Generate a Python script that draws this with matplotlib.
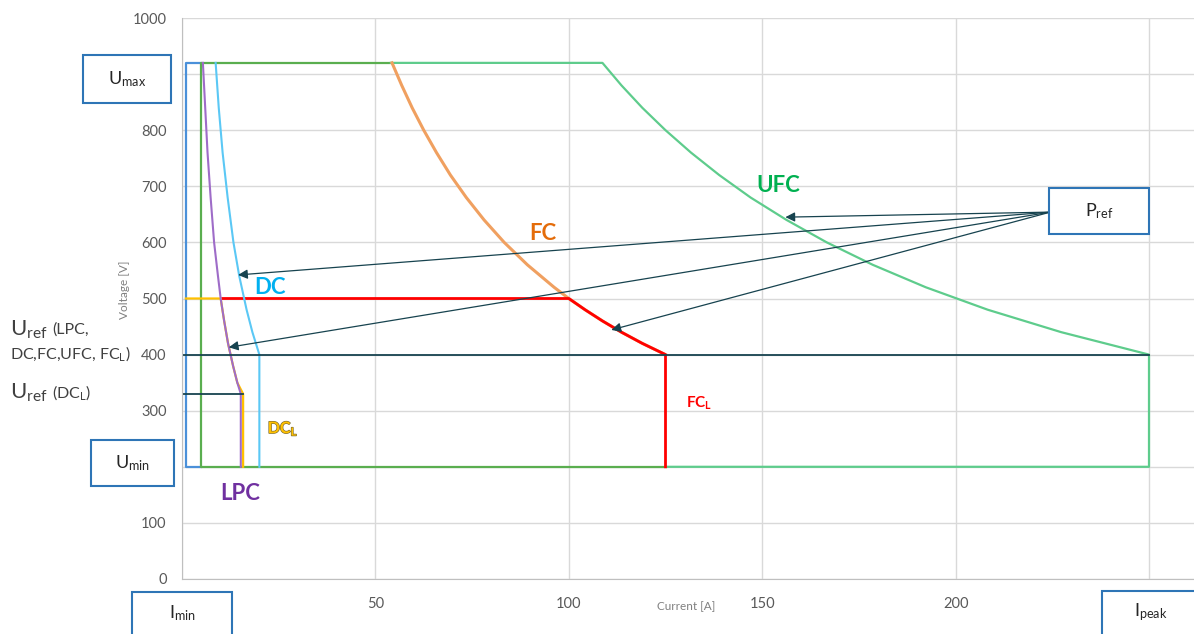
import matplotlib
matplotlib.use("Agg")
import matplotlib.pyplot as plt
import matplotlib.patheffects as pe
from matplotlib.patches import Rectangle

# limits
U_MAX = 920
U_MIN = 200
U_REF = 400
U_REF_DCL = 330
I_MIN = 1
I_PEAK = 250

# Imin / Umax box (blue) and Imin limit (green)
blue_i = [5, I_MIN, I_MIN, 5]
blue_u = [U_MIN, U_MIN, U_MAX, U_MAX]
green_i = [125, 5, 5, 54]
green_u = [U_MIN, U_MIN, U_MAX, U_MAX]

# UFC (light green)
ufc_i = [54, 108.7, 113.6, 119, 125, 131.6, 138.9, 147, 156.3, 166.7, 178.6,
         192.3, 208.3, 227.3, 250, 250, 125]
ufc_u = [920, 920, 880, 840, 800, 760, 720, 680, 640, 600, 560,
         520, 480, 440, 400, 200, 200]

# FC (orange)
fc_i = [54.3, 56.8, 59.5, 62.5, 65.8, 69.4, 73.5, 78.1, 83.3, 89.3, 96.2,
        100, 104.2, 108.7, 113.6, 119, 125]
fc_u = [920, 880, 840, 800, 760, 720, 680, 640, 600, 560, 520,
        500, 480, 460, 440, 420, 400]

# FC_L (red)
fcl_i = [10.5, 100, 104.2, 108.7, 113.6, 119, 125, 125]
fcl_u = [500, 500, 480, 460, 440, 420, 400, 200]

# DC (light blue)
dc_i = [8.7, 9.5, 10.5, 11.8, 13.3, 14.8, 16.7, 18.2, 20, 20]
dc_u = [920, 840, 760, 680, 600, 540, 480, 440, 400, 200]

# DC_L (yellow)
dcl_i = [I_MIN, 10, 10.9, 11.9, 13.2, 14.3, 15.8, 15.8]
dcl_u = [500, 500, 460, 420, 380, 350, 330, 200]

# LPC (purple)
lpc_i = [5.4, 6.0, 6.6, 7.4, 8.3, 9.3, 10, 10.9, 11.9, 13.2, 14.3, 15.2, 15.2]
lpc_u = [920, 840, 760, 680, 600, 540, 500, 460, 420, 380, 350, 330, 200]

# P_ref arrows: targets on the curves
arrow_src = (224.5, 654)
arrow_targets = [(156, 645), (14.5, 542), (12.1, 413), (111, 444)]

# tick labels (the ones under the boxes are covered in the original)
x_ticks = [0, 50, 100, 150, 200, 250]
x_labels = ["", "50", "100", "150", "200", ""]
y_ticks = list(range(0, 1001, 100))
y_labels = ["0", "100", "", "300", "400", "500", "600", "700", "800", "", "1000"]

W, H = 1194, 634


def px(x, y):
    return x / W, 1 - y / H


plt.rcParams["font.family"] = ["Lato", "DejaVu Sans"]
plt.rcParams["mathtext.default"] = "regular"

fig = plt.figure(figsize=(W / 100, H / 100), dpi=100)
left, top = px(182, 18)
_, bottom = px(182, 579)
ax = fig.add_axes([left, bottom, 1 - left, top - bottom])

ax.set_xlim(0, (W - 182) / 3.868)
ax.set_ylim(0, 1000)
ax.set_xticks(x_ticks, x_labels)
ax.set_yticks(y_ticks, y_labels)
ax.grid(True, color="#d9d9d9", lw=1)
ax.set_axisbelow(True)
for s in ["top", "right"]:
    ax.spines[s].set_visible(False)
for s in ["left", "bottom"]:
    ax.spines[s].set_color("#bfbfbf")
ax.tick_params(length=0, colors="#595959", labelsize=10.5)
ax.tick_params(axis="x", pad=13)
ax.tick_params(axis="y", pad=11)

ax.plot(blue_i, blue_u, color="#4a90d9", lw=1.6)
ax.plot(green_i, green_u, color="#5aae4f", lw=1.6)
ax.plot(ufc_i, ufc_u, color="#5ecc8c", lw=1.6)
ax.plot(fc_i, fc_u, color="#f0a060", lw=2.2)
ax.plot(fcl_i, fcl_u, color="#ff0000", lw=2.0)
ax.plot(dc_i, dc_u, color="#5bc8f5", lw=1.5)
ax.plot(dcl_i, dcl_u, color="#ffc000", lw=1.6)
ax.plot(lpc_i, lpc_u, color="#9e6cc8", lw=1.5)
ax.plot([0, I_PEAK], [U_REF, U_REF], color="#17434f", lw=1.3)
ax.plot([0, 15.8], [U_REF_DCL, U_REF_DCL], color="#17434f", lw=1.3)

for t in arrow_targets:
    ax.annotate("", xy=t, xytext=arrow_src,
                arrowprops=dict(arrowstyle="-|>", color="#17434f", lw=0.9,
                                mutation_scale=14, shrinkA=0, shrinkB=0))

# curve names
labels = [
    ("UFC", 778, 186, "#00b050", 16),
    ("FC", 543, 234, "#e46c0a", 16),
    ("DC", 270, 287, "#00b0f0", 16),
    ("LPC", 240, 493, "#7030a0", 16),
    ("FC$_L$", 699, 403, "#ff0000", 11),
]
for txt, x, y, c, fs in labels:
    fig.text(*px(x, y), txt, color=c, fontsize=fs, fontweight="bold",
             ha="center", va="center")
fig.text(*px(283, 429), "DC$_L$", color="#ffc000", fontsize=11.5,
         fontweight="bold", ha="center", va="center",
         path_effects=[pe.withStroke(linewidth=0.9, foreground="#7a6a30")])

fig.text(*px(125, 290), "Voltage [V]", rotation=90, color="#808080",
         fontsize=8.5, ha="center", va="center")
fig.text(*px(686, 607), "Current [A]", color="#808080", fontsize=8.5,
         ha="center", va="center")

# U_ref notes on the left
fig.text(*px(10, 330), "U$_{ref}$", fontsize=16, color="#404040",
         ha="left", va="center")
fig.text(*px(52, 330), "(LPC,", fontsize=11.5, color="#404040",
         ha="left", va="center")
fig.text(*px(10, 354), "DC,FC,UFC, FC$_L$)", fontsize=11.5, color="#404040",
         ha="left", va="center")
fig.text(*px(10, 393), "U$_{ref}$", fontsize=16, color="#404040",
         ha="left", va="center")
fig.text(*px(52, 393), "(DC$_L$)", fontsize=11.5, color="#404040",
         ha="left", va="center")

# boxes
boxes = [
    ("U$_{max}$", 83, 55, 171, 103),
    ("U$_{min}$", 91, 440, 174, 486),
    ("I$_{min}$", 132, 592, 232, 645),
    ("I$_{peak}$", 1102, 591, 1200, 645),
    ("P$_{ref}$", 1049, 188, 1149, 234),
]
for txt, x0, y0, x1, y1 in boxes:
    fx0, fy1 = px(x0, y1)
    fig.add_artist(Rectangle((fx0, fy1), (x1 - x0) / W, (y1 - y0) / H,
                             transform=fig.transFigure, facecolor="white",
                             edgecolor="#2e75b6", lw=1.5, zorder=5))
    cy = (y0 + min(y1, H)) / 2
    fig.text(*px((x0 + x1) / 2, cy), txt, fontsize=13, color="#262626",
             ha="center", va="center", zorder=6)

fig.savefig("out.png", dpi=100)
